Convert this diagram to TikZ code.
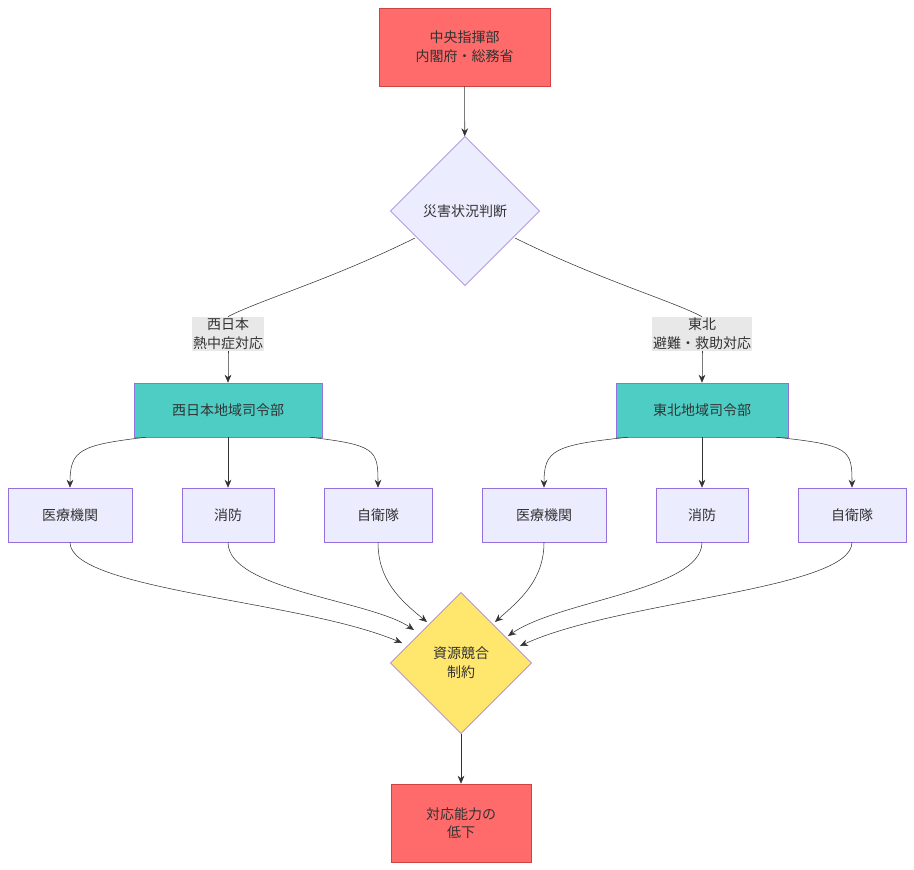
\documentclass[tikz,border=0pt]{standalone}
\usepackage{fontspec}
\setmainfont{Noto Sans CJK JP}
\usetikzlibrary{shapes.geometric,arrows.meta}
\definecolor{redf}{HTML}{FF6B6B}\definecolor{redb}{HTML}{CC4444}
\definecolor{lav}{HTML}{ECECFF}\definecolor{purp}{HTML}{9370DB}
\definecolor{teal}{HTML}{4ECDC4}\definecolor{yel}{HTML}{FFE66D}
\definecolor{lbl}{HTML}{E8E8E8}\definecolor{ln}{HTML}{333333}
\begin{document}
\begin{tikzpicture}[x=0.75pt,y=-0.75pt,font=\fontsize{10.5pt}{14pt}\selectfont,text=ln,
 box/.style={draw=purp,fill=lav,minimum height=40.5pt,align=center,inner sep=0pt},
 red/.style={box,fill=redf,draw=redb},
 dia/.style={diamond,draw=purp,fill=lav,align=center,inner sep=0pt,aspect=1},
 lab/.style={fill=lbl,align=center,inner sep=1pt},
 e/.style={draw=ln,-{Stealth[length=6pt,width=5pt]}},
 p/.style={draw=ln}]
\useasboundingbox (0,0) rectangle (914,870);
\node[red,minimum width=128pt,minimum height=58.5pt] (top) at (464.5,47) {中央指揮部\\内閣府・総務省};
\node[dia,minimum width=112pt,minimum height=112pt] (d1) at (465,211) {災害状況判断};
\node[lab] (lw) at (228,334) {西日本\\熱中症対応};
\node[lab] (le) at (702,334) {東北\\避難・救助対応};
\node[box,fill=teal,minimum width=141pt] (rw) at (228,410) {西日本地域司令部};
\node[box,fill=teal,minimum width=129pt] (re) at (702,410) {東北地域司令部};
\node[box,minimum width=93pt] (a1) at (70,515) {医療機関};
\node[box,minimum width=69pt] (a2) at (228,515) {消防};
\node[box,minimum width=81pt] (a3) at (378,515) {自衛隊};
\node[box,minimum width=93pt] (b1) at (544,515) {医療機関};
\node[box,minimum width=69pt] (b2) at (702,515) {消防};
\node[box,minimum width=81pt] (b3) at (852,515) {自衛隊};
\node[dia,fill=yel,minimum width=106pt,minimum height=106pt] (d2) at (461,663) {資源競合\\制約};
\node[red,minimum width=105pt,minimum height=58.5pt] (bot) at (461,823) {対応能力の\\低下};
\draw[e] (top) -- (d1);
\draw[p] (d1.west|-0,238) ++(25,0) coordinate (dl) (dl) .. controls (330,280) and (260,300) .. (lw.north);
\draw[p] (d1.east|-0,238) ++(-25,0) coordinate (dr) (dr) .. controls (600,280) and (670,300) .. (le.north);
\draw[e] (lw.south) .. controls (228,370) and (228,375) .. (rw.north);
\draw[e] (le.south) .. controls (702,370) and (702,375) .. (re.north);
\draw[e] (rw.south west) ++(12,0) .. controls (80,445) and (70,450) .. (a1.north);
\draw[e] (rw) -- (a2);
\draw[e] (rw.south east) ++(-12,0) .. controls (376,445) and (378,450) .. (a3.north);
\draw[e] (re.south west) ++(12,0) .. controls (554,445) and (544,450) .. (b1.north);
\draw[e] (re) -- (b2);
\draw[e] (re.south east) ++(-12,0) .. controls (850,445) and (852,450) .. (b3.north);
\draw[e] (a1.south) .. controls (70,590) and (300,600) .. (402,643);
\draw[e] (a2.south) .. controls (228,590) and (370,600) .. (414,630);
\draw[e] (a3.south) .. controls (378,580) and (400,600) .. (427,622);
\draw[e] (b1.south) .. controls (544,580) and (520,600) .. (495,622);
\draw[e] (b2.south) .. controls (702,590) and (560,600) .. (508,636);
\draw[e] (b3.south) .. controls (852,590) and (620,600) .. (520,646);
\draw[e] (d2) -- (bot);
\end{tikzpicture}
\end{document}
